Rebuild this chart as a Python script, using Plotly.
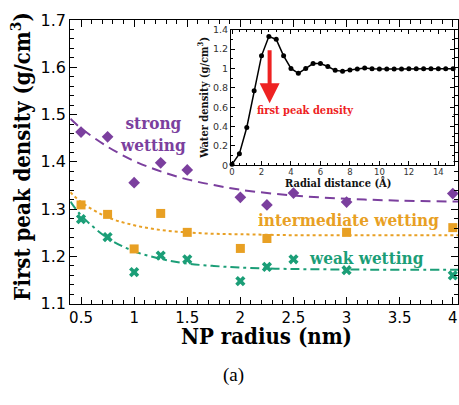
import plotly.graph_objects as go

W, H = 459, 405

# ---------------- data ----------------
radius = [0.5, 0.75, 1.0, 1.25, 1.5, 2.0, 2.25, 2.5, 3.0, 4.0]
strong = [1.463, 1.453, 1.356, 1.398, 1.383, 1.325, 1.309, 1.334, 1.315, 1.333]

radius_int = [0.5, 0.75, 1.0, 1.25, 1.5, 2.0, 2.25, 3.0, 4.0]
intermediate = [1.309, 1.289, 1.216, 1.291, 1.251, 1.217, 1.238, 1.251, 1.261]

weak = [1.279, 1.241, 1.167, 1.202, 1.194, 1.148, 1.178, 1.194, 1.171, 1.160]

fit_x = [0.4, 0.5, 0.75, 1.0, 1.25, 1.5, 1.75, 2.0, 2.5, 3.0, 3.5, 4.05]
fit_strong = [1.491, 1.471, 1.432, 1.402, 1.380, 1.363, 1.351, 1.341, 1.329, 1.322, 1.318, 1.316]
fit_inter = [1.336, 1.315, 1.283, 1.266, 1.256, 1.251, 1.248, 1.247, 1.245, 1.245, 1.245, 1.245]
fit_weak = [1.316, 1.287, 1.239, 1.211, 1.195, 1.185, 1.180, 1.1765, 1.1735, 1.1725, 1.172, 1.172]

r_dist = [0, 0.5, 1.0, 1.5, 2.0, 2.5, 3.0, 3.5, 4.0, 4.5, 5.0, 5.5, 6.0, 6.5, 7.0, 7.5,
          8.0, 8.5, 9.0, 9.5, 10.0, 10.5, 11.0, 11.5, 12.0, 12.5, 13.0, 13.5, 14.0, 14.5, 15.0]
water = [0.01, 0.12, 0.39, 0.77, 1.13, 1.33, 1.30, 1.13, 1.00, 0.95, 1.00, 1.05, 1.05, 1.02, 0.98, 0.97,
         0.985, 0.995, 1.005, 0.997, 0.993, 0.993, 0.993, 0.995, 0.997, 0.997, 0.997, 0.997, 0.997, 0.997, 0.997]

PURPLE = "#7b3f9e"
ORANGE = "#e8a024"
GREEN = "#1b9e77"
RED = "#ee2222"

SERIF = "DejaVu Serif Condensed, DejaVu Serif, serif"
SANS = "DejaVu Sans, sans-serif"


def px(x):
    return x / W


def py(y):
    return 1 - y / H


fig = go.Figure()

# main plot traces
fig.add_trace(go.Scatter(x=fit_x, y=fit_strong, mode="lines", line=dict(color=PURPLE, width=2, dash="10px,6px", shape="spline"),
                         xaxis="x", yaxis="y", showlegend=False))
fig.add_trace(go.Scatter(x=fit_x, y=fit_inter, mode="lines", line=dict(color=ORANGE, width=2, dash="3px,3px", shape="spline"),
                         xaxis="x", yaxis="y", showlegend=False))
fig.add_trace(go.Scatter(x=fit_x, y=fit_weak, mode="lines", line=dict(color=GREEN, width=2, dash="9px,4px,3px,4px", shape="spline"),
                         xaxis="x", yaxis="y", showlegend=False))

fig.add_trace(go.Scatter(x=radius, y=strong, mode="markers", marker=dict(symbol="diamond", size=9, color=PURPLE),
                         xaxis="x", yaxis="y", showlegend=False, cliponaxis=False))
fig.add_trace(go.Scatter(x=radius_int, y=intermediate, mode="markers", marker=dict(symbol="square", size=9, color=ORANGE),
                         xaxis="x", yaxis="y", showlegend=False, cliponaxis=False))
fig.add_trace(go.Scatter(x=radius, y=weak, mode="markers", marker=dict(symbol="x", size=9, color=GREEN),
                         xaxis="x", yaxis="y", showlegend=False, cliponaxis=False))

# inset
fig.add_trace(go.Scatter(x=r_dist, y=water, mode="lines+markers", line=dict(color="black", width=1.5),
                         marker=dict(symbol="circle", size=5, color="black"),
                         xaxis="x2", yaxis="y2", showlegend=False, cliponaxis=False))

main_x_dom = [px(68.5), px(458)]
main_y_dom = [py(309.3), py(11.5)]
in_x_dom = [px(230), px(453.5)]
in_y_dom = [py(164), py(21.7)]

axis_common = dict(showline=True, linecolor="black", linewidth=1, mirror="allticks", ticks="inside",
                   showgrid=False, zeroline=False, tickcolor="black")

fig.update_layout(
    width=W, height=H,
    margin=dict(l=0, r=0, t=0, b=0),
    paper_bgcolor="white", plot_bgcolor="white",
    xaxis=dict(domain=main_x_dom, range=[0.398, 4.049], dtick=0.5, tick0=0, ticklen=7, tickwidth=1,
               minor=dict(dtick=0.1, tick0=0, ticks="inside", ticklen=4, tickcolor="black"),
               tickfont=dict(family=SANS, size=15, color="black"), anchor="y", ticklabelstandoff=0, **axis_common),
    yaxis=dict(domain=main_y_dom, range=[1.1, 1.7], dtick=0.1, tick0=0, ticklen=7, tickwidth=1,
               minor=dict(dtick=0.02, tick0=0, ticks="inside", ticklen=4, tickcolor="black"),
               tickfont=dict(family=SANS, size=16, color="black"), anchor="x", **axis_common),
    xaxis2=dict(domain=in_x_dom, range=[-0.07, 15.03], dtick=2, tick0=0, ticklen=4, tickwidth=1,
                minor=dict(dtick=0.5, tick0=0, ticks="inside", ticklen=2, tickcolor="black"),
                tickfont=dict(family=SANS, size=8.5, color="#333"), anchor="y2", ticklabelstandoff=-2, **axis_common),
    yaxis2=dict(domain=in_y_dom, range=[0, 1.4], dtick=0.2, tick0=0, ticklen=4, tickwidth=1,
                minor=dict(dtick=0.1, tick0=0, ticks="inside", ticklen=2, tickcolor="black"),
                tickfont=dict(family=SANS, size=9.5, color="#333"), anchor="x2", ticklabelstandoff=0, **axis_common),
)

ann = []
# axis titles
ann.append(dict(text="<b>First peak density (g/cm<sup>3</sup>)</b>", x=px(19), y=py(155), xref="paper", yref="paper",
                textangle=-90, showarrow=False, font=dict(family=SERIF, size=22, color="black"),
                xanchor="center", yanchor="middle"))
ann.append(dict(text="<b>NP radius (nm)</b>", x=px(266), y=py(343), xref="paper", yref="paper",
                showarrow=False, font=dict(family=SERIF, size=22, color="black"), xanchor="center", yanchor="middle"))
ann.append(dict(text="(a)", x=px(233), y=py(384), xref="paper", yref="paper",
                showarrow=False, font=dict(family="Liberation Serif, serif", size=19, color="black"),
                xanchor="center", yanchor="middle"))
# inset titles
ann.append(dict(text="<b>Radial distance (Å)</b>", x=px(337), y=py(183), xref="paper", yref="paper",
                showarrow=False, font=dict(family=SERIF, size=11, color="#111"), xanchor="center", yanchor="middle"))
ann.append(dict(text="<b>Water density (g/cm<sup>3</sup>)</b>", x=px(203), y=py(93), xref="paper", yref="paper",
                textangle=-90, showarrow=False, font=dict(family=SERIF, size=11, color="#111"),
                xanchor="center", yanchor="middle"))
# series labels
ann.append(dict(text="<b>strong<br>wetting</b>", x=px(152), y=py(131), xref="paper", yref="paper",
                showarrow=False, font=dict(family=SERIF, size=17, color=PURPLE), xanchor="center", yanchor="middle"))
ann.append(dict(text="<b>intermediate wetting</b>", x=px(348), y=py(221.5), xref="paper", yref="paper",
                showarrow=False, font=dict(family=SERIF, size=17, color=ORANGE), xanchor="center", yanchor="middle"))
ann.append(dict(text="<b>weak wetting</b>", x=px(366), y=py(261), xref="paper", yref="paper",
                showarrow=False, font=dict(family=SERIF, size=17, color=GREEN), xanchor="center", yanchor="middle"))
# arrow in inset
ann.append(dict(x=2.55, y=0.64, ax=2.55, ay=1.29, xref="x2", yref="y2", axref="x2", ayref="y2",
                showarrow=True, arrowhead=2, arrowsize=1, arrowwidth=4, arrowcolor=RED, text=" "))
ann.append(dict(text="<b>first peak density</b>", x=4.95, y=0.565, xref="x2", yref="y2",
                showarrow=False, font=dict(family=SERIF, size=11, color=RED), xanchor="center", yanchor="middle"))

fig.update_layout(annotations=ann)

fig.write_html("out.html")
